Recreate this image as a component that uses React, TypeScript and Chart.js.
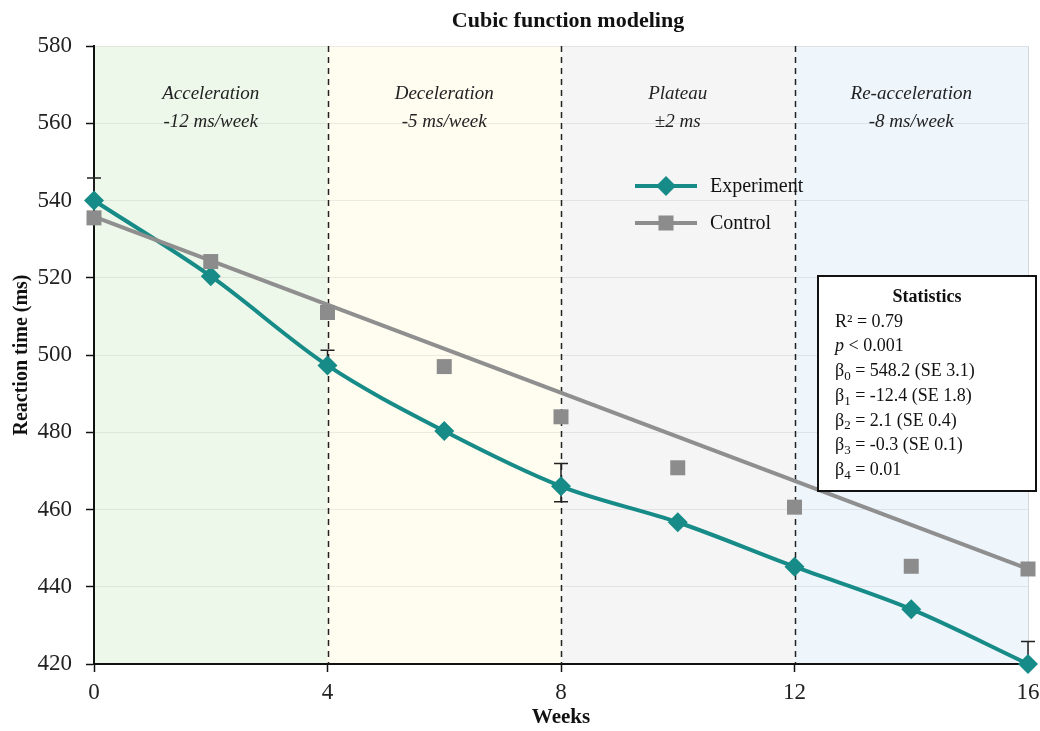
import React, { useEffect, useRef } from 'react';
import { Chart, registerables } from 'chart.js';

Chart.register(...registerables);

// ---------- data ----------
const weeks = [0, 2, 4, 6, 8, 10, 12, 14, 16];
const experiment = [540.0, 520.4, 497.3, 480.3, 466.0, 456.7, 445.2, 434.2, 420.0];
const control = [535.5, 524.2, 511.0, 497.0, 484.0, 470.8, 460.6, 445.3, 444.6];
const controlFitWeeks = [0, 16];
const controlFit = [535.8, 444.6];
const errTop = [545.8, null, 501.2, null, 471.9, null, null, null, 425.8];
const errBottom = [540.0, null, 497.3, null, 462.0, null, null, null, 420.0];
const phaseStart = [0, 4, 8, 12];
const phaseEnd = [4, 8, 12, 16];
const phaseName = ['Acceleration', 'Deceleration', 'Plateau', 'Re-acceleration'];
const phaseRate = ['-12 ms/week', '-5 ms/week', '±2 ms', '-8 ms/week'];
const phaseDividers = [4, 8, 12];
const yMin = 420;
const yMax = 580;
const yStep = 20;
const xMin = 0;
const xMax = 16;
const xStep = 4;
const seriesNames = ['Experiment', 'Control'];
const chartTitle = 'Cubic function modeling';
const xTitle = 'Weeks';
const yTitle = 'Reaction time (ms)';
const statR2 = '0.79';
const statP = '0.001';
const betaText = ['548.2 (SE 3.1)', '-12.4 (SE 1.8)', '2.1 (SE 0.4)', '-0.3 (SE 0.1)', '0.01'];

// ---------- styles ----------
const FONT = "'Liberation Serif', 'Times New Roman', serif";
const TEAL = '#168b87';
const GRAY = '#8c8c8c';
const phaseFill = ['#eef8ea', '#fffcf0', '#f5f5f6', '#eef5fb'];

function drawDiamond(ctx: CanvasRenderingContext2D, x: number, y: number, r: number, color: string) {
  ctx.beginPath();
  ctx.moveTo(x - r, y);
  ctx.lineTo(x, y - r);
  ctx.lineTo(x + r, y);
  ctx.lineTo(x, y + r);
  ctx.closePath();
  ctx.fillStyle = color;
  ctx.fill();
}

const decorPlugin = {
  id: 'decor',
  beforeDraw(chart: any) {
    const { ctx, chartArea: a, scales } = chart;
    const x = scales.x;
    ctx.save();
    ctx.fillStyle = '#ffffff';
    ctx.fillRect(0, 0, chart.width, chart.height);
    phaseStart.forEach((s, i) => {
      const x0 = x.getPixelForValue(s);
      const x1 = x.getPixelForValue(phaseEnd[i]);
      ctx.fillStyle = phaseFill[i];
      ctx.fillRect(x0, a.top, x1 - x0, a.bottom - a.top);
    });
    ctx.strokeStyle = '#d6d6d6';
    ctx.lineWidth = 1;
    ctx.beginPath();
    ctx.moveTo(a.right + 0.5, a.top);
    ctx.lineTo(a.right + 0.5, a.bottom);
    ctx.stroke();
    ctx.restore();
  },
  beforeDatasetsDraw(chart: any) {
    const { ctx, chartArea: a, scales } = chart;
    const x = scales.x;
    const y = scales.y;
    ctx.save();
    // phase dividers
    ctx.strokeStyle = '#222';
    ctx.lineWidth = 1.5;
    ctx.setLineDash([6, 5]);
    phaseDividers.forEach((d) => {
      const px = Math.round(x.getPixelForValue(d)) + 0.5;
      ctx.beginPath();
      ctx.moveTo(px, a.top);
      ctx.lineTo(px, a.bottom);
      ctx.stroke();
    });
    ctx.setLineDash([]);
    // error bars
    ctx.strokeStyle = '#222';
    ctx.lineWidth = 1.5;
    weeks.forEach((w, i) => {
      const t = errTop[i];
      const b = errBottom[i];
      if (t == null || b == null) return;
      const px = x.getPixelForValue(w);
      const pt = y.getPixelForValue(t);
      const pb = y.getPixelForValue(b);
      ctx.beginPath();
      ctx.moveTo(px, pt);
      ctx.lineTo(px, pb);
      ctx.moveTo(px - 7, pt);
      ctx.lineTo(px + 7, pt);
      if (b < experiment[i]) {
        ctx.moveTo(px - 7, pb);
        ctx.lineTo(px + 7, pb);
      }
      ctx.stroke();
    });
    ctx.restore();
  },
  afterDraw(chart: any) {
    const { ctx, chartArea: a, scales } = chart;
    const x = scales.x;
    ctx.save();
    // title
    ctx.fillStyle = '#111';
    ctx.font = `bold 22px ${FONT}`;
    ctx.textAlign = 'center';
    ctx.textBaseline = 'middle';
    ctx.fillText(chartTitle, 568, 21);
    // phase labels
    ctx.font = `italic 19px ${FONT}`;
    ctx.fillStyle = '#222';
    phaseStart.forEach((s, i) => {
      const cx = x.getPixelForValue((s + phaseEnd[i]) / 2);
      ctx.fillText(phaseName[i], cx, a.top + 48);
      ctx.fillText(phaseRate[i], cx, a.top + 76);
    });
    // legend
    const lx0 = 635;
    const lx1 = 697;
    const ly = [186, 223];
    ctx.lineWidth = 4;
    ctx.strokeStyle = TEAL;
    ctx.beginPath();
    ctx.moveTo(lx0, ly[0]);
    ctx.lineTo(lx1, ly[0]);
    ctx.stroke();
    drawDiamond(ctx, (lx0 + lx1) / 2, ly[0], 10, TEAL);
    ctx.strokeStyle = GRAY;
    ctx.beginPath();
    ctx.moveTo(lx0, ly[1]);
    ctx.lineTo(lx1, ly[1]);
    ctx.stroke();
    ctx.fillStyle = GRAY;
    ctx.fillRect((lx0 + lx1) / 2 - 7.5, ly[1] - 7.5, 15, 15);
    ctx.fillStyle = '#111';
    ctx.font = `20px ${FONT}`;
    ctx.textAlign = 'left';
    ctx.fillText(seriesNames[0], 710, ly[0] + 1);
    ctx.fillText(seriesNames[1], 710, ly[1] + 1);
    // statistics box
    const bx = 818;
    const by = 276;
    const bw = 218;
    const bh = 215;
    ctx.fillStyle = '#ffffff';
    ctx.fillRect(bx, by, bw, bh);
    ctx.strokeStyle = '#111';
    ctx.lineWidth = 2;
    ctx.strokeRect(bx, by, bw, bh);
    ctx.fillStyle = '#111';
    ctx.textAlign = 'center';
    ctx.font = `bold 18px ${FONT}`;
    ctx.fillText('Statistics', 927, 297);
    ctx.textAlign = 'left';
    const tx = 835;
    const lineY = (k: number) => 322 + k * 24.7;
    ctx.font = `18px ${FONT}`;
    ctx.fillText(`R² = ${statR2}`, tx, lineY(0));
    ctx.font = `italic 18px ${FONT}`;
    ctx.fillText('p', tx, lineY(1));
    const w = ctx.measureText('p').width;
    ctx.font = `18px ${FONT}`;
    ctx.fillText(` < ${statP}`, tx + w, lineY(1));
    betaText.forEach((t, k) => {
      const yy = lineY(k + 2);
      ctx.font = `18px ${FONT}`;
      ctx.fillText('β', tx, yy);
      let cx = tx + ctx.measureText('β').width;
      ctx.font = `13px ${FONT}`;
      ctx.fillText(String(k), cx, yy + 5);
      cx += ctx.measureText(String(k)).width;
      ctx.font = `18px ${FONT}`;
      ctx.fillText(` = ${t}`, cx, yy);
    });
    ctx.restore();
  },
};

export default function App() {
  const ref = useRef<HTMLCanvasElement | null>(null);

  useEffect(() => {
    document.body.style.margin = '0';
    if (!ref.current) return;
    const chart = new Chart(ref.current, {
      type: 'line',
      data: {
        datasets: [
          {
            label: seriesNames[0],
            data: weeks.map((w, i) => ({ x: w, y: experiment[i] })),
            borderColor: TEAL,
            backgroundColor: TEAL,
            borderWidth: 4,
            pointStyle: 'rectRot',
            pointRadius: 10,
            pointBorderWidth: 0,
            cubicInterpolationMode: 'monotone',
            clip: false,
            order: 2,
          },
          {
            label: seriesNames[1] + ' fit',
            data: controlFitWeeks.map((w, i) => ({ x: w, y: controlFit[i] })),
            borderColor: '#8f8f8f',
            borderWidth: 4,
            pointRadius: 0,
            clip: false,
            order: 1,
          },
          {
            label: seriesNames[1],
            data: weeks.map((w, i) => ({ x: w, y: control[i] })),
            showLine: false,
            backgroundColor: GRAY,
            borderColor: GRAY,
            pointStyle: 'rect',
            pointRadius: 10.6,
            pointBorderWidth: 0,
            clip: false,
            order: 0,
          },
        ],
      },
      options: {
        animation: false,
        responsive: false,
        events: [],
        layout: { padding: { top: 46, right: 12, left: 0, bottom: 0 } },
        plugins: {
          legend: { display: false },
          tooltip: { enabled: false },
          title: { display: false },
        },
        scales: {
          x: {
            type: 'linear',
            min: xMin,
            max: xMax,
            afterFit: (s: any) => {
              s.height = 67;
              s.paddingLeft = 0;
              s.paddingRight = 0;
            },
            border: { color: '#111', width: 2 },
            grid: { drawOnChartArea: false, tickColor: '#111', tickLength: 8, tickWidth: 1.5 },
            ticks: {
              stepSize: xStep,
              color: '#222',
              font: { family: FONT, size: 23 },
              padding: 7,
              maxRotation: 0,
            },
            title: {
              display: true,
              text: xTitle,
              color: '#111',
              font: { family: FONT, size: 21, weight: 'bold' },
              padding: { top: 0, bottom: 1 },
            },
          },
          y: {
            type: 'linear',
            min: yMin,
            max: yMax,
            afterFit: (s: any) => {
              s.width = 94;
            },
            border: { color: '#111', width: 2 },
            grid: { color: 'rgba(0,0,0,0.07)', tickColor: '#111', tickLength: 8, tickWidth: 1.5, lineWidth: 1 },
            ticks: {
              stepSize: yStep,
              color: '#222',
              font: { family: FONT, size: 23 },
              padding: 14,
            },
            title: {
              display: true,
              text: yTitle,
              color: '#111',
              font: { family: FONT, size: 20, weight: 'bold' },
              padding: { top: 10, bottom: 0 },
            },
          },
        },
      },
      plugins: [decorPlugin],
    } as any);
    return () => chart.destroy();
  }, []);

  return (
    <div style={{ width: 1040, height: 731 }}>
      <canvas ref={ref} width={1040} height={731} style={{ display: 'block' }} />
    </div>
  );
}
